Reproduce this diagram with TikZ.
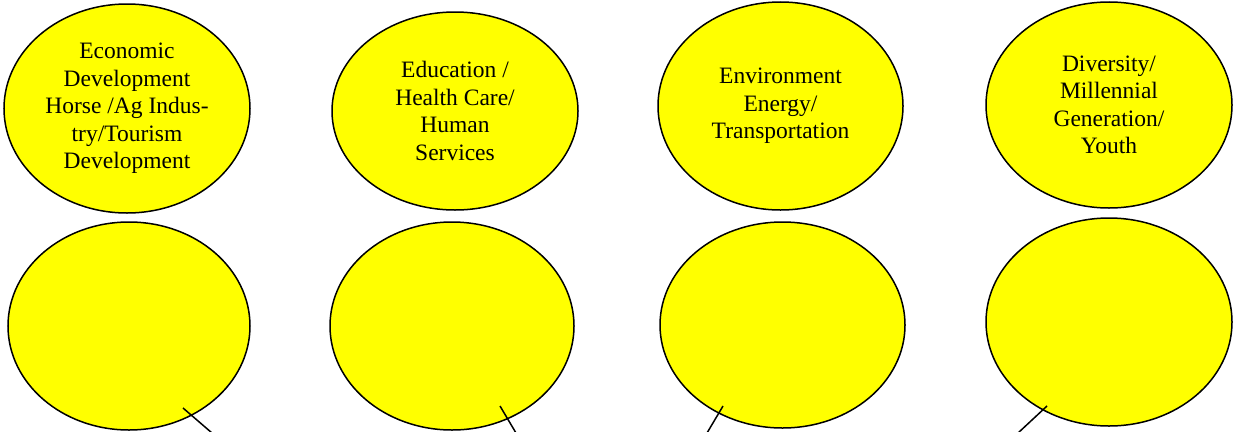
\documentclass[tikz,border=0pt]{standalone}
\usepackage{fontspec}
\setmainfont{Liberation Serif}
\usetikzlibrary{shapes.geometric}
\definecolor{bubbleyellow}{RGB}{255,255,0}

\begin{document}
\begin{tikzpicture}[x=1pt,y=-1pt,
    bubble/.style={ellipse,draw=black,fill=bubbleyellow,line width=1.5pt,
      inner sep=0pt,align=center,font=\fontsize{23.5}{27.5}\selectfont}]
    \useasboundingbox (0,0) rectangle (1238,431);
    \node[bubble,minimum width=246,minimum height=209] (econ) at (127,108.5)
      {Economic\\Development\\Horse /Ag Indus-\\try/Tourism\\Development};
    \node[bubble,minimum width=246,minimum height=198] (educ) at (455,111)
      {Education /\\Health Care/\\Human\\Services};
    \node[bubble,minimum width=245,minimum height=208] (envi) at (780.5,106)
      {Environment\\Energy/\\Transportation};
    \node[bubble,minimum width=246,minimum height=206] (dive) at (1109,105)
      {Diversity/\\Millennial\\Generation/\\Youth};
    \node[bubble,minimum width=242,minimum height=208] (econb) at (129,326) {};
    \node[bubble,minimum width=244,minimum height=208] (educb) at (452,326) {};
    \node[bubble,minimum width=245,minimum height=206] (envib) at (782.5,325) {};
    \node[bubble,minimum width=246,minimum height=208] (diveb) at (1109,322) {};
    \coordinate (econa) at (183,408); \coordinate (econz) at (212,433);
    \coordinate (educa) at (500,406); \coordinate (educz) at (516,433);
    \coordinate (envia) at (723,406); \coordinate (enviz) at (707,433);
    \coordinate (divea) at (1047,406); \coordinate (divez) at (1018,433);
    \draw[line width=1.5pt] (econa) -- (econz) (educa) -- (educz)
      (envia) -- (enviz) (divea) -- (divez);
\end{tikzpicture}
\end{document}
